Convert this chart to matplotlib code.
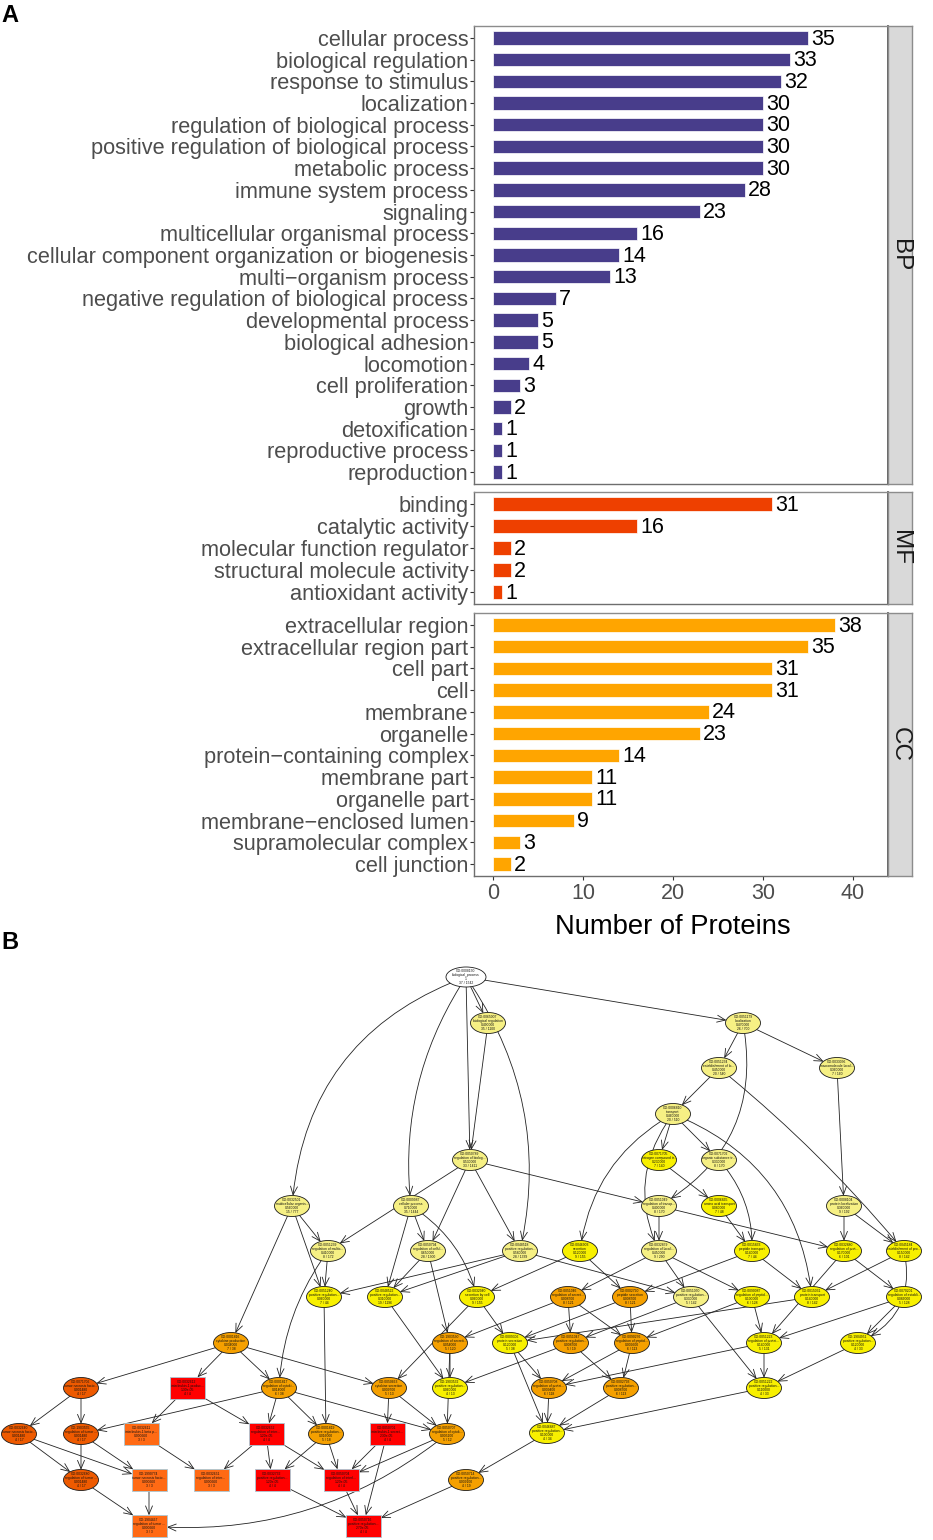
import matplotlib
matplotlib.use('Agg')
import matplotlib.pyplot as plt
import numpy as np
from matplotlib.patches import Ellipse, Rectangle, FancyArrowPatch
from matplotlib.colors import ListedColormap, BoundaryNorm

plt.rcParams['font.family'] = ['Liberation Sans', 'DejaVu Sans']

# ---------------- Panel A data ----------------
bp_terms = ["cellular process", "biological regulation", "response to stimulus", "localization",
            "regulation of biological process", "positive regulation of biological process",
            "metabolic process", "immune system process", "signaling",
            "multicellular organismal process", "cellular component organization or biogenesis",
            "multi\u2212organism process", "negative regulation of biological process",
            "developmental process", "biological adhesion", "locomotion", "cell proliferation",
            "growth", "detoxification", "reproductive process", "reproduction"]
bp_counts = [35, 33, 32, 30, 30, 30, 30, 28, 23, 16, 14, 13, 7, 5, 5, 4, 3, 2, 1, 1, 1]
mf_terms = ["binding", "catalytic activity", "molecular function regulator",
            "structural molecule activity", "antioxidant activity"]
mf_counts = [31, 16, 2, 2, 1]
cc_terms = ["extracellular region", "extracellular region part", "cell part", "cell", "membrane",
            "organelle", "protein\u2212containing complex", "membrane part", "organelle part",
            "membrane\u2212enclosed lumen", "supramolecular complex", "cell junction"]
cc_counts = [38, 35, 31, 31, 24, 23, 14, 11, 11, 9, 3, 2]
x_ticks = [0, 10, 20, 30, 40]

# ---------------- Panel B data (GO DAG) ----------------
go_ids = ["GO:0008150", "GO:0065007", "GO:0051179", "GO:0051234", "GO:0033036", "GO:0006810",
          "GO:0071705", "GO:0071702", "GO:0050789", "GO:0032501", "GO:0009987", "GO:0051049",
          "GO:0006865", "GO:0008104", "GO:0051239", "GO:0050794", "GO:0048518", "GO:0046903",
          "GO:0032879", "GO:0015833", "GO:0032880", "GO:0045184", "GO:0051240", "GO:0048522",
          "GO:0032940", "GO:0051046", "GO:0002790", "GO:0051050", "GO:0090087", "GO:0015031",
          "GO:0070201", "GO:0001816", "GO:1903530", "GO:0009306", "GO:0051047", "GO:0090276",
          "GO:0051223", "GO:1904951", "GO:0071706", "GO:0032612", "GO:0001817", "GO:0050663",
          "GO:1903532", "GO:0050708", "GO:0002793", "GO:0051222", "GO:0032640", "GO:1903555",
          "GO:0032611", "GO:0032652", "GO:0001819", "GO:0050701", "GO:0050707", "GO:0046887",
          "GO:0032680", "GO:1990774", "GO:0032651", "GO:0032732", "GO:0050704", "GO:0050714",
          "GO:1904467", "GO:0050716"]
go_names = ["biological_process", "biological regulation", "localization", "establishment of lo...",
            "macromolecule locali...", "transport", "nitrogen compound tr...", "organic substance tr...",
            "regulation of biolog...", "multicellular organis...", "cellular process",
            "regulation of transp...", "amino acid transport", "protein localization",
            "regulation of multic...", "regulation of cellul...", "positive regulation...",
            "secretion", "regulation of locali...", "peptide transport", "regulation of prot...",
            "establishment of pro...", "positive regulation...", "positive regulation...",
            "secretion by cell", "regulation of secret...", "peptide secretion",
            "positive regulation...", "regulation of peptid...", "protein transport",
            "regulation of establi...", "cytokine production", "regulation of secreti...",
            "protein secretion", "positive regulation...", "regulation of peptid...",
            "regulation of protei...", "positive regulation...", "tumor necrosis facto...",
            "interleukin-1 produc...", "regulation of cytoki...", "cytokine secretion",
            "positive regulation...", "regulation of protei...", "positive regulation...",
            "positive regulation...", "tumor necrosis facto...", "regulation of tumor ...",
            "interleukin-1 beta p...", "regulation of inter...", "positive regulation...",
            "interleukin-1 secret...", "regulation of cytok...", "positive regulation...",
            "regulation of tumor ...", "tumor necrosis facto...", "regulation of inter...",
            "positive regulation...", "regulation of interl...", "positive regulation...",
            "regulation of tumor ...", "positive regulation..."]
go_pvals = [1.0, 0.49, 0.47, 0.45, 0.36, 0.46, 0.23, 0.33, 0.53, 0.56, 0.71, 0.40,
            0.08, 0.36, 0.41, 0.65, 0.58, 0.12, 0.45, 0.14, 0.17, 0.15, 0.06, 0.31,
            0.06, 0.0087, 0.0087, 0.33, 0.10, 0.14, 0.086, 0.034, 0.054, 0.12, 0.0087, 0.0096,
            0.14, 0.12, 0.00148, 1.3e-05, 0.014, 0.0097, 0.06, 0.0094, 0.0087, 0.11, 0.00148, 0.00148,
            0.00066, 1.2e-05, 0.016, 2.3e-05, 0.0051, 0.10, 0.00148, 0.00066, 0.00066, 1.2e-05,
            1.2e-05, 0.0091, 0.00066, 2.7e-05]
go_sig = [37, 35, 26, 20, 7, 20, 7, 8, 33, 15, 35, 8, 7, 9, 8, 28, 28, 9, 9, 7, 6, 8, 7, 19,
          9, 8, 8, 5, 6, 8, 5, 7, 5, 5, 5, 6, 5, 4, 4, 4, 6, 5, 4, 6, 6, 4, 4, 4, 3, 4, 5, 4, 5,
          4, 4, 3, 3, 4, 4, 4, 3, 4]
go_annot = [1542, 1100, 700, 540, 160, 510, 140, 170, 1411, 777, 1444, 170, 48, 192, 172, 1300,
            1339, 155, 290, 44, 101, 142, 44, 1196, 155, 121, 121, 142, 128, 142, 128, 38, 120, 38,
            19, 113, 131, 33, 17, 4, 38, 13, 13, 118, 113, 33, 17, 17, 3, 4, 18, 4, 12, 34, 17, 3,
            3, 4, 4, 19, 3, 4]
# layout of the DAG (from the original graph drawing, image pixel space)
node_x = [466, 488, 743, 719, 837, 673, 659, 719, 470, 292, 411, 659, 719, 844, 328, 428, 520,
          580, 659, 752, 844, 904, 324, 385, 477, 568, 630, 691, 752, 812, 904, 231, 450, 510,
          571, 632, 764, 858, 81, 187, 279, 389, 450, 549, 621, 764, 19, 81, 141, 266, 326, 387,
          447, 547, 81, 149, 211, 272, 341, 466, 149, 363]
node_y = [977, 1023, 1023, 1068, 1068, 1114, 1160, 1160, 1160, 1206, 1206, 1206, 1206, 1206,
          1251, 1251, 1251, 1251, 1251, 1251, 1251, 1251, 1297, 1297, 1297, 1297, 1297, 1297,
          1297, 1297, 1297, 1343, 1343, 1343, 1343, 1343, 1343, 1343, 1388, 1388, 1388, 1388,
          1388, 1388, 1388, 1388, 1434, 1434, 1434, 1434, 1434, 1434, 1434, 1433, 1480, 1480,
          1480, 1480, 1480, 1480, 1526, 1526]
edges = [(0, 1), (0, 2), (0, 8), (0, 9), (0, 10), (0, 16), (1, 8), (2, 3), (2, 4), (2, 11),
         (3, 5), (3, 21), (4, 13), (5, 6), (5, 7), (5, 17), (5, 18), (5, 29), (6, 12), (7, 19),
         (8, 11), (8, 14), (8, 15), (8, 16), (9, 14), (9, 22), (9, 31), (10, 15), (10, 23),
         (10, 24), (11, 18), (11, 20), (12, 19), (13, 20), (13, 21), (14, 22), (14, 40),
         (15, 23), (15, 32), (16, 22), (16, 23), (16, 27), (17, 24), (17, 26), (18, 25),
         (18, 27), (18, 28), (19, 26), (19, 29), (20, 30), (20, 36), (21, 29), (21, 37),
         (22, 50), (23, 42), (24, 33), (24, 41), (25, 32), (25, 34), (25, 35), (26, 33),
         (26, 35), (27, 34), (27, 45), (28, 35), (28, 36), (29, 33), (30, 36), (30, 37),
         (31, 38), (31, 39), (31, 40), (31, 41), (32, 42), (32, 52), (33, 43), (33, 53),
         (34, 42), (34, 44), (35, 43), (35, 44), (36, 43), (36, 45), (37, 45), (38, 46),
         (38, 47), (39, 48), (39, 49), (40, 47), (40, 49), (40, 50), (40, 52), (41, 51),
         (41, 52), (43, 53), (44, 53), (45, 53), (46, 54), (46, 55), (47, 54), (47, 55),
         (48, 56), (49, 56), (49, 57), (49, 58), (50, 57), (50, 58), (51, 58), (51, 61),
         (52, 58), (52, 60), (53, 59), (54, 60), (55, 60), (57, 61), (58, 61), (59, 61)]
n_sig_nodes = 10

# edge routing (curvature of the longer edges)
edge_rad = {(0, 9): 0.32, (0, 10): 0.18, (0, 16): -0.22, (2, 11): -0.35, (5, 17): 0.25,
            (5, 29): -0.3, (5, 18): 0.3, (14, 40): 0.15, (52, 60): -0.2, (21, 37): -0.4,
            (7, 19): -0.2, (3, 21): -0.05, (10, 24): -0.2}

# ---------------- Figure ----------------
W, H = 933, 1540
fig = plt.figure(figsize=(W / 100, H / 100), dpi=100)


def fr(x0, y0, x1, y1):
    return [x0 / W, 1 - y1 / H, (x1 - x0) / W, (y1 - y0) / H]


panels = [(bp_terms, bp_counts, 'BP', '#483D8B', 26, 484),
          (mf_terms, mf_counts, 'MF', '#EE4000', 492, 604),
          (cc_terms, cc_counts, 'CC', '#FFA500', 613, 876)]
spine_col = '#8C8C8C'
for i, (terms, counts, lab, col, y0, y1) in enumerate(panels):
    ax = fig.add_axes(fr(474, y0, 888, y1))
    n = len(terms)
    pos = np.arange(n)
    ax.barh(pos, counts, height=0.62, color=col, edgecolor='#FFFFFF', linewidth=0.5)
    ax.set_ylim(n - 1 + 0.55, -0.55)
    ax.set_xlim(-2.1, 43.9)
    ax.set_yticks(pos)
    ax.set_yticklabels(terms, fontsize=15.7, color='#4D4D4D')
    for p, c in zip(pos, counts):
        ax.text(c + 0.35, p + 0.05, str(c), va='center', ha='left', fontsize=15.5, color='black')
    ax.tick_params(axis='y', length=3, width=0.8, color='#333333', pad=1)
    ax.set_xticks(x_ticks)
    if i == len(panels) - 1:
        ax.tick_params(axis='x', length=3, width=0.8, color='#333333', labelsize=15.5,
                       labelcolor='#4D4D4D', pad=2)
    else:
        ax.tick_params(axis='x', length=0, labelbottom=False)
    for s in ax.spines.values():
        s.set_color(spine_col)
        s.set_linewidth(1.0)
    ax.spines['left'].set_color('#6E6E6E')
    ax.spines['bottom'].set_color('#6E6E6E')
    ax.spines['right'].set_color('#555555')
    ax.spines['right'].set_linewidth(1.3)
    sx = fig.add_axes(fr(888, y0, 912, y1))
    sx.set_facecolor('#D9D9D9')
    sx.set_xticks([]); sx.set_yticks([])
    for s in sx.spines.values():
        s.set_color(spine_col)
        s.set_linewidth(1.0)
    sx.text(0.5, 0.5, lab, rotation=270, ha='center', va='center', fontsize=17.5,
            color='#1A1A1A', transform=sx.transAxes)

fig.text(673 / W, 1 - 927 / H, 'Number of Proteins', ha='center', va='center', fontsize=19.7,
         color='black')
fig.text(1 / W, 1 - 16 / H, 'A', ha='left', va='center', fontsize=17, fontweight='bold')
fig.text(1 / W, 1 - 942 / H, 'B', ha='left', va='center', fontsize=17, fontweight='bold')

# ---------------- Panel B: GO graph ----------------
axb = fig.add_axes([0, 0, 1, 585 / H])
axb.set_xlim(0, W)
axb.set_ylim(H, H - 585)
axb.axis('off')

logp = -np.log10(np.array(go_pvals))
bins = [-1, 0.1, 0.5, 1.25, 2.6, 3.1, 4.0, 20]
cols = ['#FFFFFF', '#F6F084', '#F8F000', '#F5A000', '#EE5A00', '#FF6A14', '#FF0000']
cmap = ListedColormap(cols)
norm = BoundaryNorm(bins, cmap.N)
order = np.argsort(np.array(go_pvals), kind='stable')
is_rect = np.zeros(len(go_ids), bool)
is_rect[order[:n_sig_nodes]] = True

patches = []
for k in range(len(go_ids)):
    x, y = node_x[k], node_y[k]
    fc = cmap(norm(logp[k]))
    if k == 0:
        w, h = 40, 20
    else:
        w, h = 35, 21
    if is_rect[k]:
        p = Rectangle((x - 17, y - 11), 35, 22, facecolor=fc, edgecolor='#A9C9D6',
                      linewidth=0.6, zorder=3)
    else:
        p = Ellipse((x, y), w, h, facecolor=fc, edgecolor='#1A1A1A', linewidth=0.6, zorder=3)
    axb.add_patch(p)
    patches.append(p)
    pv = go_pvals[k]
    pstr = '1' if pv >= 1 else ('%.2e' % pv if pv < 1e-4 else '%.6f' % pv)
    lbl = '%s\n%s\n%s\n%d / %d' % (go_ids[k], go_names[k], pstr, go_sig[k], go_annot[k])
    axb.text(x, y, lbl, ha='center', va='center', fontsize=2.4, color='#111111',
             linespacing=1.1, zorder=4)

for (a, b) in edges:
    rad = edge_rad.get((a, b), 0.0)
    arr = FancyArrowPatch((node_x[a], node_y[a]), (node_x[b], node_y[b]),
                          patchA=patches[a], patchB=patches[b],
                          arrowstyle='->,head_length=0.6,head_width=0.25',
                          connectionstyle='arc3,rad=%g' % rad, mutation_scale=10,
                          linewidth=0.6, color='#222222', shrinkA=0, shrinkB=0, zorder=2)
    axb.add_patch(arr)

fig.savefig('out.png', dpi=100)
